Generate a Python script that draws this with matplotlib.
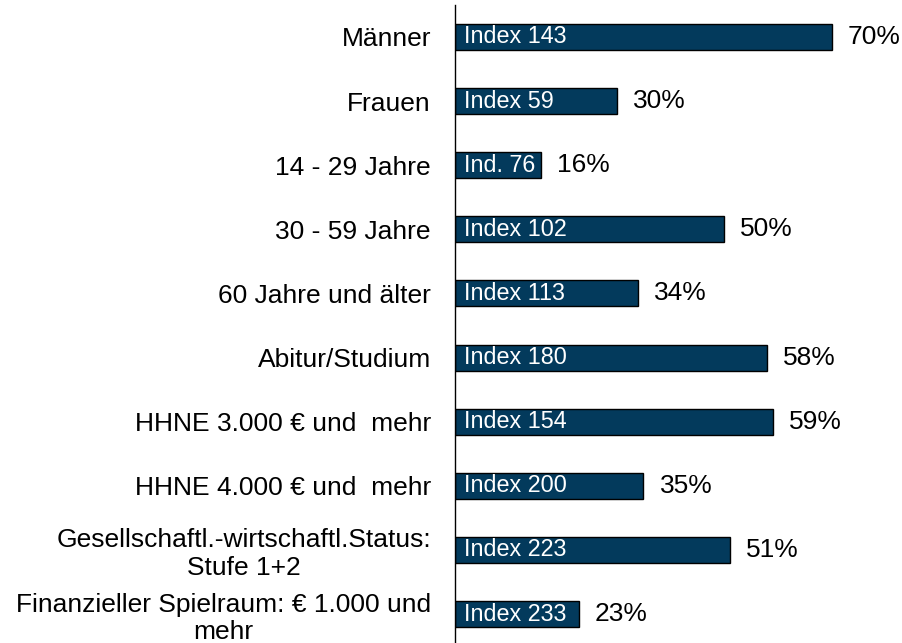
import matplotlib
matplotlib.use("Agg")
import matplotlib.pyplot as plt

plt.rcParams['font.family'] = ['Liberation Sans', 'DejaVu Sans']

categories = [
    "Männer",
    "Frauen",
    "14 - 29 Jahre",
    "30 - 59 Jahre",
    "60 Jahre und älter",
    "Abitur/Studium",
    "HHNE 3.000 € und  mehr",
    "HHNE 4.000 € und  mehr",
    "Gesellschaftl.-wirtschaftl.Status:\nStufe 1+2",
    "Finanzieller Spielraum: € 1.000 und\nmehr",
]
values = [70, 30, 16, 50, 34, 58, 59, 35, 51, 23]
index_labels = ["Index 143", "Index 59", "Ind. 76", "Index 102", "Index 113",
                "Index 180", "Index 154", "Index 200", "Index 223", "Index 233"]

W, H = 902, 643
fig = plt.figure(figsize=(W / 100, H / 100), dpi=100)
ax_left = 455 / W
top_px = 4.94
bot_px = 646.06
ax = fig.add_axes([ax_left, (H - bot_px) / H, 1 - ax_left, (bot_px - top_px) / H])

ypos = list(range(len(categories)))
ax.barh(ypos, values, height=0.405, color='#033A5C', edgecolor='black', linewidth=1.0)

fs_in = 16.8
fs = 19
for y, v, lab in zip(ypos, values, index_labels):
    ax.annotate(lab, xy=(0, y), xytext=(9, 0), textcoords='offset pixels',
                ha='left', va='center', color='white', fontsize=fs_in)
    ax.annotate(f"{v}%", xy=(v, y), xytext=(16, 0), textcoords='offset pixels',
                ha='left', va='center', color='black', fontsize=fs)

ax.set_yticks(ypos)
ax.set_yticklabels(categories, fontsize=fs, multialignment='center')
ax.tick_params(axis='y', length=0, pad=17.3)
ax.set_xticks([])
ax.set_xlim(0, 83)
ax.set_ylim(9.5, -0.5)
for s in ['top', 'right', 'bottom']:
    ax.spines[s].set_visible(False)
ax.spines['left'].set_linewidth(1.0)
ax.spines['left'].set_color('black')

fig.savefig("out.png", dpi=100)
